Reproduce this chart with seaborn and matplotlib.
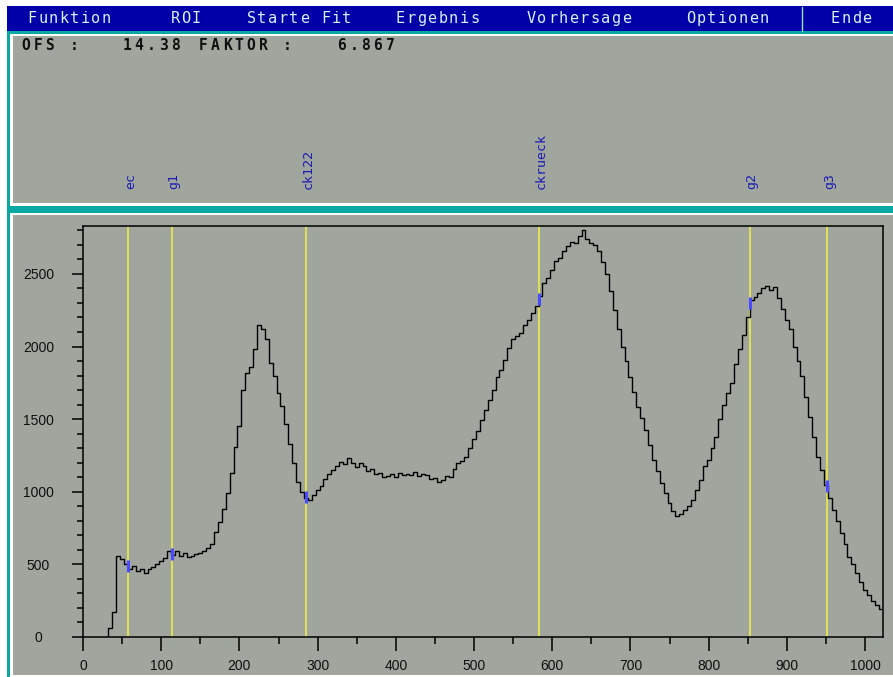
import numpy as np
import seaborn as sns
import matplotlib
import matplotlib.pyplot as plt
from matplotlib.patches import Rectangle
from matplotlib import transforms

# spectrum, one value every 5 channels (ch 30 .. 1020)
channels = np.arange(30, 1021, 5)
counts = [
    0, 60, 170, 560, 540, 500, 470, 490, 455, 470,
    440, 465, 480, 500, 520, 545, 590, 565, 590, 560,
    575, 550, 560, 570, 580, 595, 610, 640, 720, 790,
    880, 990, 1130, 1310, 1450, 1700, 1820, 1860, 1980, 2150,
    2120, 2050, 1890, 1800, 1680, 1590, 1470, 1330, 1200, 1070,
    1000, 960, 945, 980, 1010, 1040, 1090, 1120, 1150, 1175,
    1205, 1190, 1230, 1200, 1170, 1195, 1180, 1140, 1160, 1120,
    1130, 1100, 1110, 1125, 1100, 1130, 1115, 1125, 1115, 1135,
    1110, 1120, 1115, 1090, 1095, 1070, 1080, 1110, 1100, 1160,
    1200, 1210, 1240, 1300, 1360, 1420, 1495, 1560, 1630, 1700,
    1790, 1840, 1910, 1990, 2050, 2070, 2090, 2150, 2180, 2230,
    2280, 2350, 2440, 2470, 2530, 2590, 2610, 2660, 2690, 2720,
    2710, 2760, 2800, 2740, 2710, 2700, 2660, 2580, 2500, 2380,
    2250, 2120, 2000, 1900, 1790, 1690, 1585, 1510, 1425, 1320,
    1220, 1140, 1060, 990, 920, 870, 830, 850, 875, 900,
    945, 1010, 1080, 1180, 1220, 1300, 1380, 1500, 1600, 1680,
    1750, 1880, 1980, 2080, 2200, 2320, 2340, 2370, 2400, 2420,
    2390, 2410, 2335, 2260, 2180, 2120, 2000, 1900, 1800, 1650,
    1515, 1380, 1240, 1150, 1050, 960, 875, 800, 716, 640,
    550, 500, 440, 380, 324, 290, 250, 220, 195,
]

# ROI markers
roi_names = ['ec', 'g1', 'ck122', 'ckrueck', 'g2', 'g3']
roi_pos = [58, 114, 285, 583, 853, 952]
roi_counts = [490, 570, 965, 2330, 2300, 1040]

menu_items = ['Funktion', 'ROI', 'Starte Fit', 'Ergebnis', 'Vorhersage', 'Optionen', 'Ende']
menu_x = [27, 170, 246, 395, 526, 685, 830]
info_parts = ['OFS :', '14.38', 'FAKTOR :', '6.867']
info_x = [20, 121, 197, 336]

W, H = 893, 677
GRAY = '#a0a69e'
TEAL = '#0aa8a2'
BLUE = '#0000a8'

sns.set_style('ticks')
plt.rcParams['font.family'] = ['Liberation Sans', 'DejaVu Sans']

fig = plt.figure(figsize=(W / 100, H / 100), dpi=100, facecolor='white')


def box(x0, y0, x1, y1, color):
    fig.add_artist(Rectangle((x0 / W, 1 - y1 / H), (x1 - x0) / W, (y1 - y0) / H,
                             transform=fig.transFigure, color=color, lw=0, zorder=-5))


def mono(x, y, s, pitch, **kw):
    for i, c in enumerate(s):
        if c != ' ':
            fig.text((x + i * pitch + pitch / 2) / W, 1 - y / H, c,
                     ha='center', va='center', **kw)


# screen frame
box(7, 6, W, 31, BLUE)
box(7, 31, W, H, TEAL)
box(10, 34, W, 205.5, 'white')
box(12.5, 36, W, 203, GRAY)
box(10, 212.5, W, H, 'white')
box(12.5, 215, W, 675, GRAY)
fig.add_artist(plt.Line2D([802 / W, 802 / W], [1 - 7 / H, 1 - 31 / H],
                          transform=fig.transFigure, color='#9ae6f4', lw=1))

for name, x in zip(menu_items, menu_x):
    mono(x, 18.5, name, 10.6, family='DejaVu Sans Mono', fontsize=11, color='#d4f4fc')
for part, x in zip(info_parts, info_x):
    mono(x, 45, part, 12, family='DejaVu Sans Mono', fontsize=10.5,
         fontweight='bold', color='#101010')

ax = fig.add_axes([83 / W, 40 / H, 800 / W, 411 / H])
ax.set_facecolor(GRAY)

for x in roi_pos:
    ax.axvline(x, color='#f4f040', lw=1.1, zorder=1)

sns.lineplot(x=channels, y=counts, ax=ax, color='black', lw=1.0,
             drawstyle='steps-mid', estimator=None, sort=False, zorder=3)
ax.plot(roi_pos, roi_counts, ls='none', marker='|', ms=9, mew=2.2,
        color='#4a4aff', zorder=4)

ax.set_xlim(0, 1023)
ax.set_ylim(0, 2830)
ax.set_xticks(range(0, 1001, 100))
ax.set_xticks(range(50, 1000, 100), minor=True)
ax.set_yticks(range(0, 2501, 500))
ax.set_yticks([v for v in range(100, 2801, 100) if v % 500], minor=True)
ax.set_xlabel('')
ax.set_ylabel('')
for s in ax.spines.values():
    s.set_visible(True)
    s.set_linewidth(1.1)
    s.set_color('black')
ax.tick_params(axis='x', which='major', length=10, width=1.1, pad=5.5,
               labelsize=10, colors='black', labelcolor='#101010')
ax.tick_params(axis='x', which='minor', length=5, width=1.1, colors='black')
ax.tick_params(axis='y', which='major', length=8, width=1.1, pad=24,
               labelsize=10, colors='black', labelcolor='#101010')
ax.tick_params(axis='y', which='minor', length=4.3, width=1.1, colors='black')
plt.setp(ax.get_yticklabels(), ha='center')

# ROI names in the upper panel
trans = transforms.blended_transform_factory(ax.transData, fig.transFigure)
trans = transforms.offset_copy(trans, fig=fig, x=2, y=0, units='dots')
for name, x in zip(roi_names, roi_pos):
    ax.text(x, 1 - 189 / H, name, transform=trans, rotation=90, ha='center',
            va='bottom', family='DejaVu Sans Mono', fontsize=9.5, color='#1a1ab4',
            clip_on=False)

fig.savefig('out.png', dpi=100, facecolor='white')
